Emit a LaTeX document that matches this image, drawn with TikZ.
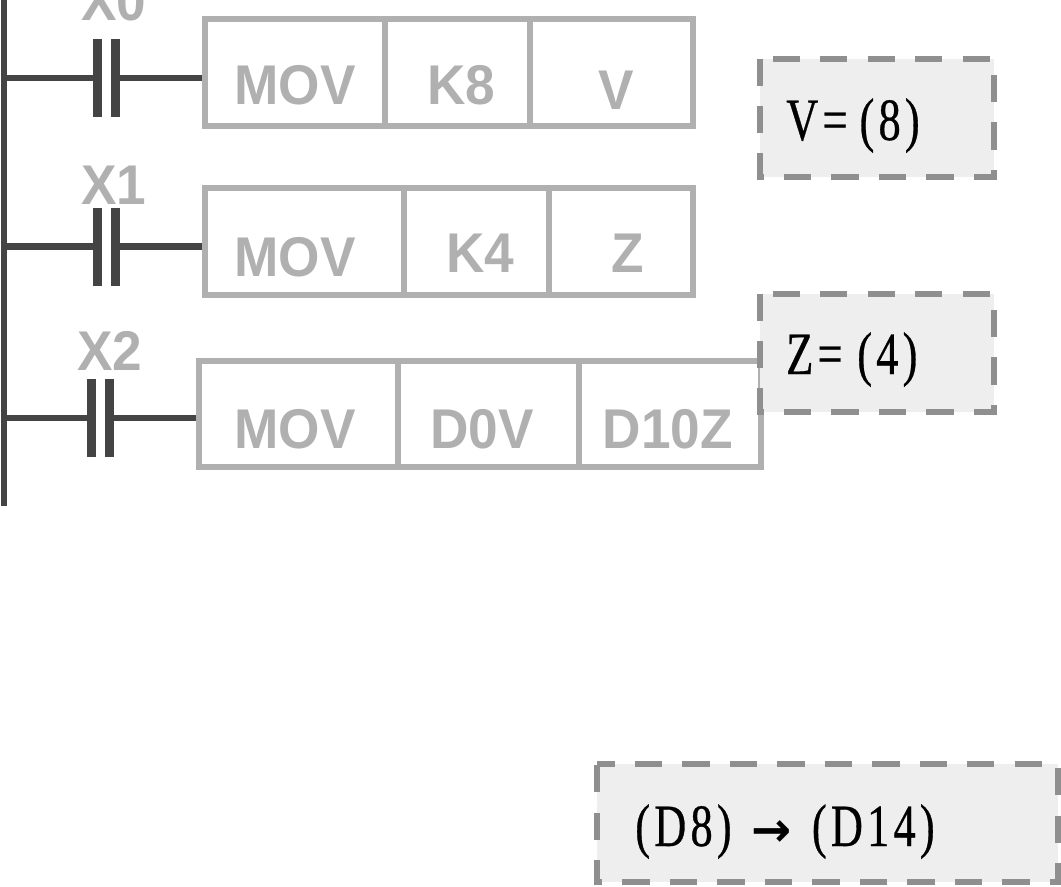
\documentclass[tikz,border=0pt]{standalone}
\usepackage{fontspec}
\setmainfont{Liberation Sans}
\newfontfamily\cellfont[FakeStretch=0.95]{Liberation Sans}
\newfontfamily\condserif[FakeStretch=0.74,LetterSpace=7,FakeBold=0.5]{Liberation Serif}
\newfontfamily\arrowfont{DejaVu Sans}
\tikzset{
  x=0.75pt,y=-0.75pt,
  cell/.style={draw=cellgray,line width=5pt,inner sep=0pt,outer sep=0pt,minimum height=#1*0.75pt},
  celltxt/.style={text=cellgray,font=\fontsize{42}{42}\cellfont\bfseries,anchor=base,inner sep=0pt},
  contact/.style={fill=wiredark,draw=none,minimum width=6.75pt,minimum height=58.5pt,inner sep=0pt,outer sep=0pt},
  wire/.style={draw=wiredark,line width=4.6pt},
  outwire/.style={wire,shorten >=2.5pt},
  note/.style={fill=notefill,draw=notedash,line width=5pt,dash pattern=on 20.5pt off 15.1pt},
  notetxt/.style={text=black,font=\fontsize{45}{45}\condserif,anchor=base west,inner sep=0pt},
}
\definecolor{cellgray}{HTML}{B0B0B0}
\definecolor{wiredark}{HTML}{444444}
\definecolor{notefill}{HTML}{EEEEEE}
\definecolor{notedash}{HTML}{8F8F8F}
\begin{document}
\begin{tikzpicture}
\clip (0,0) rectangle (1061,886);
% bus
\coordinate (bustop) at (4,0);
\coordinate (busbot) at (4,506);
\draw[wiredark,line width=4.9pt] (bustop) -- (busbot);
\coordinate (b0) at (4,78);
\coordinate (b1) at (4,246.5);
\coordinate (b2) at (4,418);
% rung 0
\node[cell=107,minimum width=180*0.75pt] (a1) at (295,72.5) {};
\node[cell=107,minimum width=145*0.75pt] (a2) at (457.5,72.5) {};
\node[cell=107,minimum width=163*0.75pt] (a3) at (611.5,72.5) {};
\node[contact] (c0l) at (97.5,78) {};
\node[contact] (c0r) at (115.5,78) {};
\draw[wire] (b0) -- (c0l.west);
\draw[outwire] (c0r.east) -- (c0r.east -| a1.west);
\node[celltxt] (tx0) at (114,20) {X0};
\node[celltxt] (t1) at (295,104) {MOV};
\node[celltxt] (t2) at (461,104) {K8};
\node[celltxt] (t3) at (616,109) {V};
% rung 1
\node[cell=107,minimum width=199*0.75pt] (d1) at (304.5,241.5) {};
\node[cell=107,minimum width=145*0.75pt] (d2) at (476.5,241.5) {};
\node[cell=107,minimum width=144*0.75pt] (d3) at (621,241.5) {};
\node[contact] (c1l) at (97.5,246.5) {};
\node[contact] (c1r) at (115.5,246.5) {};
\draw[wire] (b1) -- (c1l.west);
\draw[outwire] (c1r.east) -- (c1r.east -| d1.west);
\node[celltxt] (tx1) at (114,204) {X1};
\node[celltxt] (t4) at (295,276) {MOV};
\node[celltxt] (t5) at (480,272) {K4};
\node[celltxt] (t6) at (628,272) {Z};
% rung 2
\node[cell=106,minimum width=199*0.75pt] (e1) at (298.5,414) {};
\node[cell=106,minimum width=181*0.75pt] (e2) at (488.5,414) {};
\node[cell=106,minimum width=182*0.75pt] (e3) at (670,414) {};
\node[contact] (c2l) at (91.5,418) {};
\node[contact] (c2r) at (109.5,418) {};
\draw[wire] (b2) -- (c2l.west);
\draw[outwire] (c2r.east) -- (c2r.east -| e1.west);
\node[celltxt] (tx2) at (110,370) {X2};
\node[celltxt] (t7) at (295,448) {MOV};
\node[celltxt] (t8) at (482,448) {D0V};
\node[celltxt] (t9) at (668,448) {D10Z};
% notes
\draw[note,dash phase=26.1pt] (760,59) -- (994,59) -- (994,177) -- (760,177) -- cycle;
\draw[note,dash phase=26.1pt] (760,294) -- (994,294) -- (994,412) -- (760,412) -- cycle;
\draw[note,dash phase=7.2pt] (597,764) -- (1058,764) -- (1058,882) -- (597,882) -- cycle;
\node[notetxt] (n1) at (786,140) {V=\hspace{9pt}(8)};
\node[notetxt] (n2) at (786,374) {Z=\hspace{11pt}(4)};
\node[notetxt] (n3) at (635,846) {(D8)\hspace{15pt}{\arrowfont\fontsize{36}{36}\selectfont\bfseries →}\hspace{15pt}(D14)};
\end{tikzpicture}
\end{document}
